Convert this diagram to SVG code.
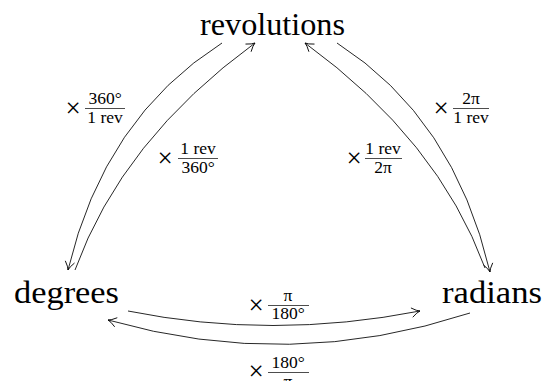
<svg xmlns="http://www.w3.org/2000/svg" width="545" height="381" viewBox="0 0 545 381">
<defs>
<marker id="arr" markerUnits="userSpaceOnUse" markerWidth="12" markerHeight="12" viewBox="-10 -6 12 12" refX="0" refY="0" orient="auto">
<path d="M -8,-4.5 Q -3,-0.6 0,0 Q -3,0.6 -8,4.5" fill="none" stroke="#000" stroke-width="0.85" stroke-linecap="round"/>
</marker>
<style>
.node{font-family:"Liberation Serif",serif;font-size:31px;fill:#000}
.lab{font-family:"Liberation Serif",serif;font-size:17.5px;fill:#000}
.times{font-family:"Liberation Serif",serif;font-size:27px;fill:#000}
.bar{stroke:#000;stroke-width:0.7}
.edge{fill:none;stroke:#000;stroke-width:0.85;marker-end:url(#arr)}
</style>
</defs>
<rect width="545" height="381" fill="#fff"/>
<g id="revolutions"><text class="node" x="200" y="35" textLength="145" lengthAdjust="spacingAndGlyphs">revolutions</text></g>
<g id="degrees"><text class="node" x="14" y="303" textLength="105" lengthAdjust="spacingAndGlyphs">degrees</text></g>
<g id="radians"><text class="node" x="442" y="303" textLength="100" lengthAdjust="spacingAndGlyphs">radians</text></g>
<g id="connectors">
<path class="edge" d="M 222,43 Q 104,118 68,270"/>
<path class="edge" d="M 75,270 Q 122,140 255,43"/>
<path class="edge" d="M 337,43 Q 454,118 490,272"/>
<path class="edge" d="M 485,268 Q 438,140 305,43"/>
<path class="edge" d="M 128,311 Q 272,340 420,311"/>
<path class="edge" d="M 470,313 Q 290,372 108,320"/>
</g>
<g id="label-rev-deg">
<text class="times" x="73" y="117" text-anchor="middle">×</text>
<text class="lab" x="105" y="104" text-anchor="middle">360°</text>
<line class="bar" x1="85" y1="108.5" x2="125" y2="108.5"/>
<text class="lab" x="105" y="123" text-anchor="middle">1 rev</text>
</g>
<g id="label-deg-rev">
<text class="times" x="165" y="167" text-anchor="middle">×</text>
<text class="lab" x="198" y="154" text-anchor="middle">1 rev</text>
<line class="bar" x1="178" y1="158.5" x2="218" y2="158.5"/>
<text class="lab" x="198" y="173" text-anchor="middle">360°</text>
</g>
<g id="label-rad-rev">
<text class="times" x="354" y="167" text-anchor="middle">×</text>
<text class="lab" x="383" y="154" text-anchor="middle">1 rev</text>
<line class="bar" x1="365" y1="158.5" x2="402" y2="158.5"/>
<text class="lab" x="383" y="173" text-anchor="middle">2π</text>
</g>
<g id="label-rev-rad">
<text class="times" x="441" y="117" text-anchor="middle">×</text>
<text class="lab" x="471" y="104" text-anchor="middle">2π</text>
<line class="bar" x1="453" y1="108.5" x2="489" y2="108.5"/>
<text class="lab" x="471" y="123" text-anchor="middle">1 rev</text>
</g>
<g id="label-deg-rad">
<text class="times" x="256" y="314" text-anchor="middle">×</text>
<text class="lab" x="288" y="301" text-anchor="middle">π</text>
<line class="bar" x1="268" y1="305.5" x2="309" y2="305.5"/>
<text class="lab" x="288" y="319" text-anchor="middle">180°</text>
</g>
<g id="label-rad-deg">
<text class="times" x="256" y="380" text-anchor="middle">×</text>
<text class="lab" x="288" y="368" text-anchor="middle">180°</text>
<line class="bar" x1="268" y1="372.5" x2="309" y2="372.5"/>
<text class="lab" x="288" y="387" text-anchor="middle">π</text>
</g>
</svg>
